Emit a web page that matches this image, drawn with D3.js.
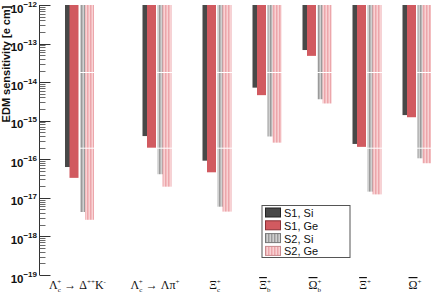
<!DOCTYPE html>
<html><head><meta charset="utf-8">
<script src="https://cdn.jsdelivr.net/npm/d3@7"></script>
<style>
html,body{margin:0;padding:0;background:#fff;}
svg{display:block;}
</style></head>
<body>
<svg id="c" width="431" height="294"></svg>
<script>
// ---- data ----
const categories = ["LcDK", "LcLpi", "Xic", "Xib", "Omegab", "Xibar", "Omegabar"];
const s1Si = [6.3e-17, 4.0e-16, 9.2e-17, 7.2e-15, 6.8e-14, 2.5e-16, 1.4e-15];
const s1Ge = [3.3e-17, 2.0e-16, 4.6e-17, 4.6e-15, 4.8e-14, 2.1e-16, 1.23e-15];
const s2Si = [4.3e-18, 4.1e-17, 5.9e-18, 3.9e-16, 3.6e-15, 1.45e-17, 1.06e-16];
const s2Ge = [2.7e-18, 1.95e-17, 4.4e-18, 2.7e-16, 2.8e-15, 1.23e-17, 7.9e-17];
const seriesNames = ["S1, Si", "S1, Ge", "S2, Si", "S2, Ge"];
const yTickExps = [-12, -13, -14, -15, -16, -17, -18, -19];
const yLabel = "EDM sensitivity [e cm]";

// ---- layout ----
const svg = d3.select("#c");
const y = d3.scaleLog().domain([1e-19, 1e-12]).range([275, 5]);
const x = d3.scaleOrdinal().domain(categories).range([79.5, 157, 217, 267, 317, 367, 417]);

const defs = svg.append("defs");
function stripe(id, c1, c2, c3) {
  const p = defs.append("pattern").attr("id", id).attr("patternUnits", "userSpaceOnUse")
    .attr("x", 0).attr("y", 72).attr("width", 3).attr("height", 75.7);
  p.append("rect").attr("x", 0).attr("y", 0).attr("width", 1).attr("height", 75.7).attr("fill", c1);
  p.append("rect").attr("x", 1).attr("y", 0).attr("width", 1).attr("height", 75.7).attr("fill", c2);
  p.append("rect").attr("x", 2).attr("y", 0).attr("width", 1).attr("height", 75.7).attr("fill", c3);
  p.append("rect").attr("x", 0).attr("y", 0).attr("width", 3).attr("height", 1).attr("fill", "#fff");
}
stripe("pg", "#9a9a9a", "#b8b8b8", "#d0d0d0");
stripe("pp", "#eca6ab", "#f3bcbf", "#f8d2d4");

const series = [
  {vals: s1Si, off: -14.5, fill: "#484848"},
  {vals: s1Ge, off: -10, fill: "#d15a60"},
  {vals: s2Si, off: 0.5, fill: "url(#pg)"},
  {vals: s2Ge, off: 5.5, fill: "url(#pp)"}
];
const bw = 9;
series.forEach(s => {
  svg.append("g").selectAll("rect").data(categories).join("rect")
    .attr("x", (c) => x(c) + s.off)
    .attr("y", y(1e-12))
    .attr("width", bw)
    .attr("height", (c, i) => y(s.vals[i]) - y(1e-12))
    .attr("fill", s.fill);
});

// y axis
const ax = svg.append("g").attr("transform", "translate(39.5,0)");
ax.append("line").attr("x1", 0).attr("x2", 0).attr("y1", y(1e-12)).attr("y2", y(1e-19)).attr("stroke", "#333");
const minor = [];
for (let e = -19; e < -12; e++) for (let m = 2; m <= 9; m++) minor.push(m * Math.pow(10, e));
ax.selectAll(".mn").data(minor).join("line").attr("class", "mn")
  .attr("x1", 0).attr("x2", 6).attr("y1", d => Math.round(y(d)) + 0.5).attr("y2", d => Math.round(y(d)) + 0.5)
  .attr("stroke", "#444").attr("stroke-width", 0.8);
ax.selectAll(".mj").data(yTickExps).join("line").attr("class", "mj")
  .attr("x1", 0).attr("x2", 11).attr("y1", d => Math.round(y(Math.pow(10, d))) + 0.5).attr("y2", d => Math.round(y(Math.pow(10, d))) + 0.5)
  .attr("stroke", "#333").attr("stroke-width", 1);
const tl = ax.selectAll(".tl").data(yTickExps).join("text").attr("class", "tl")
  .attr("x", -2.5).attr("y", d => y(Math.pow(10, d)) + 7.5)
  .attr("text-anchor", "end")
  .attr("font-family", "Liberation Sans, Arial, sans-serif").attr("font-weight", "bold").attr("font-size", 11.5)
  .attr("fill", "#111");
tl.append("tspan").text("10");
tl.append("tspan").attr("dy", -6).attr("font-size", 8).text(d => "\u2212" + Math.abs(d));

svg.append("text").attr("transform", "translate(9.5,64) rotate(-90)")
  .attr("text-anchor", "middle")
  .attr("font-family", "Liberation Sans, Arial, sans-serif").attr("font-weight", "bold").attr("font-size", 11)
  .attr("fill", "#111").text(yLabel);

// x labels
const serif = "Liberation Serif, Times New Roman, serif";
const lab = svg.append("g").attr("font-family", serif).attr("font-size", 12).attr("fill", "#111");
function addLabel(cat, parts, shift) {
  const t = lab.append("text").attr("x", x(cat) + (shift || 0)).attr("y", 289).attr("text-anchor", "middle");
  parts.forEach(p => {
    const ts = t.append("tspan").text(p.t);
    if (p.fs) ts.attr("font-size", p.fs);
    if (p.dy) ts.attr("dy", p.dy);
    if (p.dx) ts.attr("dx", p.dx);
    if (p.ol) ts.style("text-decoration", "overline");
  });
}
addLabel("LcDK", [{t: "Λ"}, {t: "c", fs: 7, dy: 3}, {t: "+", fs: 7, dy: -8, dx: -3.5}, {t: " → Δ", dy: 5}, {t: "++", fs: 7, dy: -5}, {t: "K", dy: 5}, {t: "-", fs: 7, dy: -5}], -2);
addLabel("LcLpi", [{t: "Λ"}, {t: "c", fs: 7, dy: 3}, {t: "+", fs: 7, dy: -8, dx: -3.5}, {t: " → Λπ", dy: 5}, {t: "+", fs: 7, dy: -5}], -2);
addLabel("Xic", [{t: "Ξ"}, {t: "c", fs: 7, dy: 3}, {t: "+", fs: 7, dy: -8, dx: -3.5}], -2);
addLabel("Xib", [{t: "Ξ", ol: true}, {t: "b", fs: 7, dy: 3}, {t: "+", fs: 7, dy: -8, dx: -3.5}], -2);
addLabel("Omegab", [{t: "Ω", ol: true}, {t: "b", fs: 7, dy: 3}, {t: "+", fs: 7, dy: -8, dx: -3.5}], -2);
addLabel("Xibar", [{t: "Ξ", ol: true}, {t: "+", fs: 7, dy: -5}], -2);
addLabel("Omegabar", [{t: "Ω", ol: true}, {t: "+", fs: 7, dy: -5}], -2);

// legend
const lg = svg.append("g").attr("transform", "translate(262,205.5)");
lg.append("rect").attr("x", 0).attr("y", 0).attr("width", 88).attr("height", 52)
  .attr("fill", "#fff").attr("stroke", "#555").attr("stroke-width", 1);
const legFill = ["#484848", "#d15a60", "url(#pg)", "url(#pp)"];
const legStroke = ["#222", "#8a3035", "#777", "#c98a8e"];
const rows = lg.selectAll(".row").data(seriesNames).join("g").attr("class", "row")
  .attr("transform", (d, i) => `translate(3,${2.5 + i * 12.8})`);
rows.append("rect").attr("x", 0.5).attr("y", 0).attr("width", 15).attr("height", 9)
  .attr("fill", (d, i) => legFill[i]).attr("stroke", (d, i) => legStroke[i]).attr("stroke-width", 1);
rows.append("text").attr("x", 19).attr("y", 9)
  .attr("font-family", "Liberation Sans, Arial, sans-serif").attr("font-size", 11).attr("fill", "#111")
  .text(d => d);
</script>
</body></html>
